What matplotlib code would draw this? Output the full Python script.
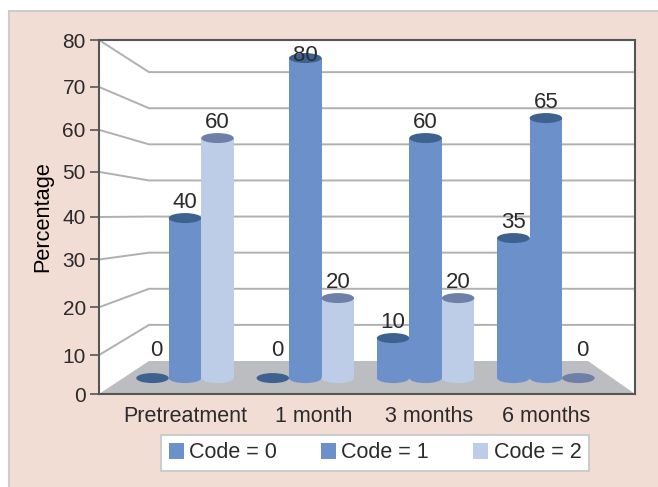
import matplotlib
matplotlib.use('Agg')
import matplotlib.pyplot as plt
from matplotlib.patches import Ellipse, Patch, Polygon, Rectangle

plt.rcParams['font.family'] = ['Liberation Sans', 'DejaVu Sans']
plt.rcParams['font.size'] = 15
plt.rcParams['text.color'] = '#2b2b2b'

categories = ['Pretreatment', '1 month', '3 months', '6 months']
series_names = ['Code = 0', 'Code = 1', 'Code = 2']
code0 = [0, 0, 10, 35]
code1 = [40, 80, 60, 65]
code2 = [60, 20, 20, 0]
y_ticks = [0, 10, 20, 30, 40, 50, 60, 70, 80]

body_colors = ['#6c90c9', '#6c90c9', '#bdcde8']
top_colors = ['#3e6290', '#3e6290', '#6e7fa8']

# the fake 3d: front wall is the axes box, back wall sits up and to the right
W, H = 658, 487
L, R, T, B = 99, 635, 40, 394
px_y = 354 / 80   # pixels per y unit on the front wall
px_x = 120.3      # pixels per category
x_first = 185

# the source front ticks are not evenly spaced
front_ticks = [0, 8.8, 19.6, 30.4, 40.0, 50.2, 59.7, 69.4, 80]
tick_x = [0, 1.07, 2.03, 3]
back_floor = 7.46
back_scale = 0.816
bar_floor = 3.6
bar_scale = 0.904
bar_w = 32.5 / px_x
ell_h = 10 / px_y
offsets = [-bar_w, 0, bar_w]
back_left = (149 - x_first) / px_x
floor_right = (588 - x_first) / px_x

fig = plt.figure(figsize=(W / 100, H / 100), dpi=100, facecolor='white')
fig.patches.append(Rectangle((9 / W, -0.01), 1, (487 - 11) / H + 0.01, transform=fig.transFigure,
                             fc='#f2ddd5', ec='#cccccc', lw=1.5, zorder=-1))

ax = fig.add_axes([L / W, 1 - B / H, (R - L) / W, (B - T) / H])
ax.set_xlim((L - x_first) / px_x, (R - x_first) / px_x)
ax.set_ylim(0, 80)
xl, xr = ax.get_xlim()

# floor
ax.add_patch(Polygon([(xl, 0), (back_left, back_floor), (floor_right, back_floor), (xr, 0)],
                     fc='#bcbdc0', ec='none', zorder=1))

# walls
for v, f in zip(y_ticks, front_ticks):
    if v == 0:
        continue
    yb = back_floor + back_scale * v
    ax.plot([xl, back_left, xr], [f, yb, yb], color='#b0b0b2', lw=1.4, zorder=2, clip_on=False)

# cylinders
for s, vals in enumerate([code0, code1, code2]):
    for i, v in enumerate(vals):
        x = i + offsets[s]
        top = bar_floor + bar_scale * v
        if v > 0:
            ax.add_patch(Ellipse((x, bar_floor), bar_w, ell_h, fc=body_colors[s], ec='none', zorder=3 + s))
            ax.add_patch(Rectangle((x - bar_w / 2, bar_floor), bar_w, top - bar_floor,
                                   fc=body_colors[s], ec='none', zorder=3 + s))
        ax.add_patch(Ellipse((x, top), bar_w, ell_h, fc=top_colors[s], ec='none', zorder=3 + s))
        # zero labels and the 80 sit away from the usual spot
        dy = 19.5 if v == 0 else (2 if v == 80 else 11.5)
        ax.annotate(str(v), (x, top), xytext=(3 if v == 0 else 0, dy), textcoords='offset points',
                    ha='center', va='center', zorder=8, fontsize=16)

ax.set_yticks(front_ticks)
ax.set_yticklabels([str(v) for v in y_ticks])
ax.set_xticks(tick_x)
ax.set_xticklabels(categories)
ax.tick_params(axis='y', length=6.5, width=1.2, color='#555555', pad=3, labelcolor='#2b2b2b', labelsize=15)
ax.tick_params(axis='x', length=0, pad=8.5, labelcolor='#2b2b2b', labelsize=15.5)
ax.set_ylabel('Percentage', fontsize=15.7)
ax.yaxis.set_label_coords((53 - L) / (R - L), (B - 217) / (B - T))
for name, sp in ax.spines.items():
    sp.set_color('#555555')
    sp.set_linewidth(1.5)
    sp.set_zorder(9)

handles = [Patch(fc=c, ec='none') for c in body_colors]
leg = ax.legend(handles, series_names, ncol=3, loc='center', bbox_to_anchor=(375 / W, 1 - 453 / H),
                bbox_transform=fig.transFigure, fancybox=False, framealpha=1, facecolor='white',
                edgecolor='#cccccc', fontsize=15.5, handlelength=0.7, handleheight=0.7,
                handletextpad=0.25, columnspacing=2.05, borderpad=0.35, borderaxespad=0)
leg.get_frame().set_linewidth(1.5)

fig.savefig('out.png', dpi=100, facecolor=fig.get_facecolor())
